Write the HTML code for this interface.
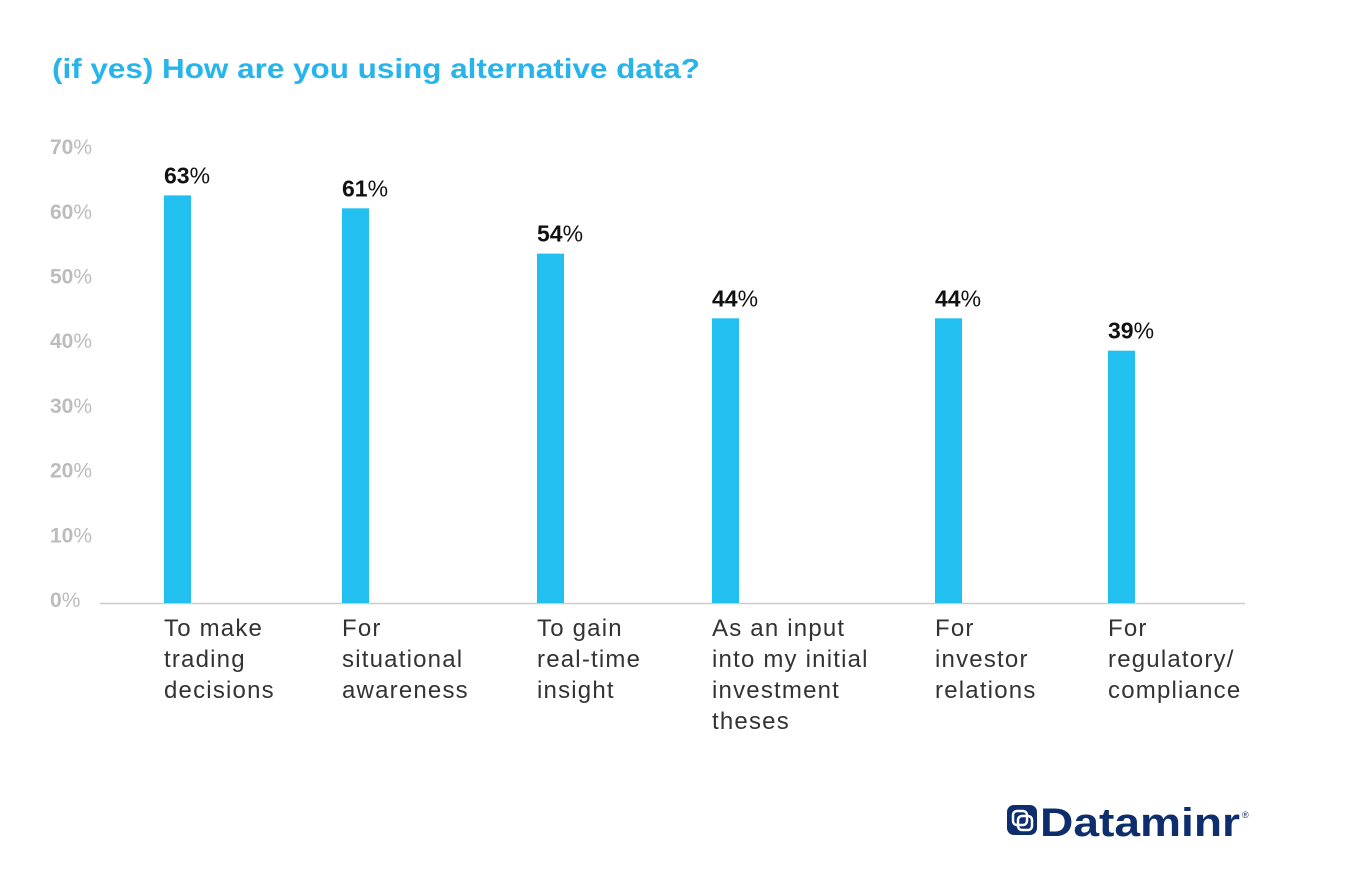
<!DOCTYPE html>
<html><head><meta charset="utf-8"><style>
body{margin:0;background:#fff;font-family:"Liberation Sans",sans-serif;}
#wrap{position:relative;width:1345px;height:880px;overflow:hidden;}
</style></head><body>
<div id="wrap">
<svg id="chart" width="1345" height="880">
<text x="52" y="78" font-size="28" font-weight="bold" fill="#26b4ea" textLength="648" lengthAdjust="spacingAndGlyphs">(if yes) How are you using alternative data?</text>
<line x1="100" y1="603.5" x2="1245" y2="603.5" stroke="#ccc" stroke-width="1.5"/>
<g id="yticks"></g><g id="bars"></g>
<g>
<rect x="1007" y="805" width="30" height="30" rx="7" fill="#0d2d6c"/>
<rect x="1013" y="811" width="14" height="14" rx="4" fill="none" stroke="#fff" stroke-width="2.5"/>
<rect x="1018" y="816" width="14" height="14" rx="4" fill="none" stroke="#fff" stroke-width="2.5"/>
<text x="1040" y="836" font-size="40" font-weight="bold" fill="#0d2d6c" textLength="200" lengthAdjust="spacingAndGlyphs">Dataminr</text>
<text x="1242" y="818" font-size="9" fill="#0d2d6c">®</text>
</g>
</svg>
</div>
<script>
const categories=[["To make","trading","decisions"],["For","situational","awareness"],["To gain","real-time","insight"],["As an input","into my initial","investment","theses"],["For","investor","relations"],["For","regulatory/","compliance"]];
const values=[63,61,54,44,44,39];
const tickValues=[0,10,20,30,40,50,60,70];
const barX=[164,342,537,712,935,1108];
const NS="http://www.w3.org/2000/svg";
const base=603,scale=6.47;
function y(v){return base-v*scale;}
function mk(t,a,p){const e=document.createElementNS(NS,t);for(const k in a)e.setAttribute(k,a[k]);p.appendChild(e);return e;}
const yt=document.getElementById('yticks');
tickValues.forEach(v=>{
 const t=mk('text',{x:50,y:y(v)+4,'font-size':21,fill:'#bcbcbc'},yt);
 
 
 const a=mk('tspan',{'font-weight':'bold'},t);a.textContent=v;
 const b=mk('tspan',{},t);b.textContent='%';
});
const bg=document.getElementById('bars');
values.forEach((v,i)=>{
 const x=barX[i];
 const r=mk('rect',{x:x,y:y(v),width:27,height:base-y(v),fill:'#22c0f0'},bg);
 
 
 const t=mk('text',{x:x,y:y(v)-12,'font-size':23,fill:'#111'},bg);
 
 
 const a=mk('tspan',{'font-weight':'bold'},t);a.textContent=v;
 const b=mk('tspan',{},t);b.textContent='%';
 categories[i].forEach((ln,j)=>{
  const c=mk('text',{x:x,y:636+j*31,'font-size':24,'letter-spacing':1.2,fill:'#333'},bg);
  
  
  c.textContent=ln;
 });
});
</script>
</body></html>
